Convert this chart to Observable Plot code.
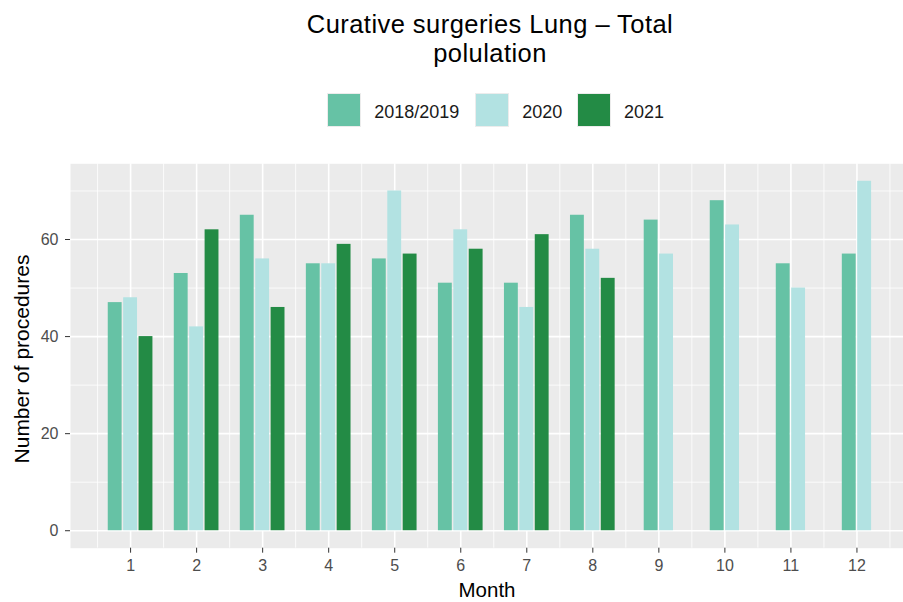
<!DOCTYPE html>
<html>
<head>
<meta charset="utf-8">
<script src="https://cdn.jsdelivr.net/npm/d3@7"></script>
<script src="https://cdn.jsdelivr.net/npm/@observablehq/plot@0.6"></script>
<style>
  body { margin: 0; background: white; font-family: "Liberation Sans", Arial, sans-serif; }
  #wrap { position: relative; width: 903px; height: 602px; overflow: hidden; background: white; }
  #header { position: relative; width: 903px; height: 140px; }
  .title { position: absolute; left: 0; top: 10.2px; width: 980px; text-align: center; font-size: 25.5px; line-height: 28.6px; letter-spacing: 0.45px; color: #000; white-space: nowrap; }
  .key { position: absolute; top: 93.3px; width: 32px; height: 32px; border: 1px solid #ececec; }
  .ltext { position: absolute; top: 103px; font-size: 18px; line-height: 18px; color: #1a1a1a; white-space: nowrap; }
</style>
</head>
<body>
<div id="wrap">
  <div id="header"></div>
  <div id="chart"></div>
</div>
<script>
const titleLines = ["Curative surgeries Lung \u2013 Total", "polulation"];
const months = [1, 2, 3, 4, 5, 6, 7, 8, 9, 10, 11, 12];
const series = ["2018/2019", "2020", "2021"];
const values2018_2019 = [47, 53, 65, 55, 56, 51, 51, 65, 64, 68, 55, 57];
const values2020 = [48, 42, 56, 55, 70, 62, 46, 58, 57, 63, 50, 72];
const values2021 = [40, 62, 46, 59, 57, 58, 61, 52, null, null, null, null];
const colors = ["#66C2A5", "#B2E2E2", "#238B45"];
const yTicks = [0, 20, 40, 60];
const yMinor = [10, 30, 50, 70];
const xMinor = [0.5, 1.5, 2.5, 3.5, 4.5, 5.5, 6.5, 7.5, 8.5, 9.5, 10.5, 11.5, 12.5];
const xLabel = "Month";
const yLabel = "Number of procedures";

// header: title (one element, two lines) + legend
const header = document.getElementById("header");
const title = document.createElement("div");
title.className = "title";
titleLines.forEach((t, i) => {
  if (i > 0) title.appendChild(document.createElement("br"));
  title.appendChild(document.createTextNode(t));
});
header.appendChild(title);

const keyLefts = [326.7, 475, 576.7];
const textLefts = [374.3, 522.3, 624];
series.forEach((s, i) => {
  const k = document.createElement("div");
  k.className = "key";
  k.style.left = keyLefts[i] + "px";
  k.style.background = colors[i];
  header.appendChild(k);
  const t = document.createElement("div");
  t.className = "ltext";
  t.style.left = textLefts[i] + "px";
  t.textContent = s;
  header.appendChild(t);
});

// dodge2-like layout (width 0.7, padding 0.1, preserve single)
const valueLists = [values2018_2019, values2020, values2021];
const slot = 0.7 / 3;
const half = slot * 0.9 / 2;
const rows = [];
months.forEach((m, mi) => {
  const present = series.map((s, si) => ({s, v: valueLists[si][mi]})).filter(d => d.v != null);
  const n = present.length;
  present.forEach((d, i) => {
    const c = m + (i - (n - 1) / 2) * slot;
    rows.push({month: m, series: d.s, value: d.v, x1: c - half, x2: c + half});
  });
});

const chart = Plot.plot({
  width: 903,
  height: 462,
  marginTop: 23.3,
  marginBottom: 54.3,
  marginLeft: 70,
  marginRight: 0,
  x: {domain: [0.09, 12.705]},
  y: {domain: [-3.6, 75.6]},
  color: {domain: series, range: colors},
  style: {fontFamily: "Liberation Sans, Arial, sans-serif", background: "white"},
  marks: [
    Plot.frame({fill: "#EBEBEB", stroke: null}),
    Plot.ruleY(yMinor, {stroke: "white", strokeWidth: 0.8}),
    Plot.ruleX(xMinor, {stroke: "white", strokeWidth: 0.8}),
    Plot.ruleY(yTicks, {stroke: "white", strokeWidth: 1.6}),
    Plot.ruleX(months, {stroke: "white", strokeWidth: 1.6}),
    Plot.rectY(rows, {x1: "x1", x2: "x2", y: "value", fill: "series"}),
    Plot.axisX({ticks: months, tickSize: 5, tickPadding: 6.5, fontSize: 16, fill: "#4d4d4d", stroke: "#333333", label: null, tickFormat: d => String(d)}),
    Plot.axisY({ticks: yTicks, tickSize: 5, tickPadding: 7, fontSize: 16, fill: "#4d4d4d", stroke: "#333333", label: null}),
    Plot.text([xLabel], {text: d => d, frameAnchor: "bottom", lineAnchor: "middle", textAnchor: "middle", dy: 42.6, fontSize: 20.5, fill: "black"}),
    Plot.text([yLabel], {text: d => d, frameAnchor: "left", textAnchor: "middle", lineAnchor: "middle", rotate: -90, dx: -48, dy: 3, fontSize: 21, fill: "black"})
  ]
});
document.getElementById("chart").appendChild(chart);
</script>
</body>
</html>
